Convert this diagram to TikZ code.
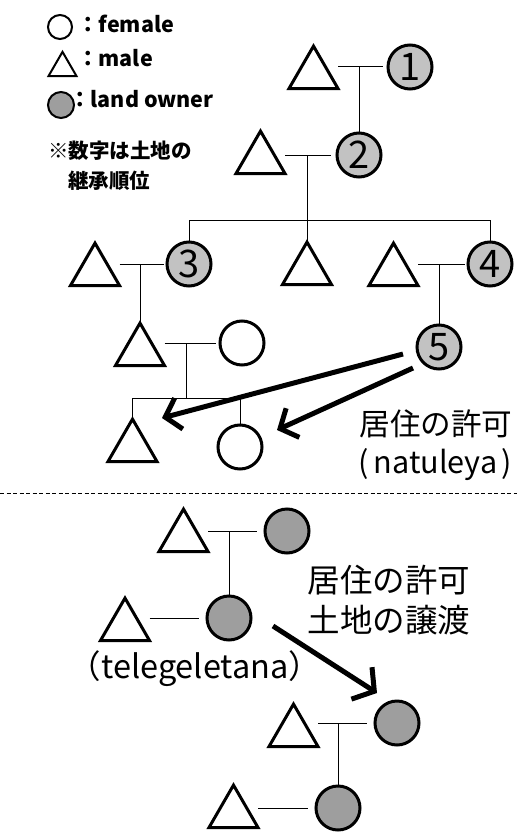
\documentclass[tikz,border=0pt]{standalone}
\usepackage{fontspec}
\setmainfont{Noto Sans CJK JP}
\usetikzlibrary{shapes.geometric,arrows.meta,calc}
\definecolor{ownA}{gray}{0.76}
\definecolor{ownB}{gray}{0.62}
\begin{document}
\begin{tikzpicture}[x=1pt,y=-1pt,
  tri/.style={draw, line width=3pt, regular polygon, regular polygon sides=3,
    minimum size=56.6pt, inner sep=0pt, outer sep=0pt},
  fem/.style={draw, line width=3pt, circle, minimum size=44pt, inner sep=0pt,
    outer sep=0pt, fill=white},
  ownerA/.style={fem, fill=ownA, font=\fontsize{38}{38}\selectfont},
  ownerB/.style={fem, fill=ownB},
  ltri/.style={draw, line width=2pt, regular polygon, regular polygon sides=3,
    minimum size=32.3pt, inner sep=0pt, outer sep=0pt},
  lcirc/.style={draw, line width=2pt, circle, inner sep=0pt, outer sep=0pt},
  legtext/.style={anchor=base west, inner sep=0pt, font=\bfseries\fontsize{21.5}{24}\selectfont},
  notetext/.style={anchor=base west, inner sep=0pt, font=\bfseries\fontsize{20.5}{24}\selectfont},
  labA/.style={anchor=base, inner sep=0pt, font=\fontsize{30.6}{34}\selectfont},
  labB/.style={anchor=base, inner sep=0pt, font=\fontsize{32.5}{36}\selectfont},
  rel/.style={line width=1pt},
  bigarrow/.style={line width=5pt, -{Straight Barb[length=14pt,width=32pt]}},
  bigarrowW/.style={line width=5pt, -{Straight Barb[length=15pt,width=38pt]}},
  sep/.style={line width=0.8pt, dash pattern=on 4pt off 2.5pt}
]
\fill[white] (0,0) rectangle (517,832);
\useasboundingbox (0,0) rectangle (517,832);

% legend
\node[lcirc, minimum size=24pt] (lf) at (60,27) {};
\node[legtext] (lft) at (77,33) {：female};
\node[ltri] (lm) at (62.5,68) {};
\node[legtext] (lmt) at (77,67) {：male};
\node[lcirc, minimum size=26pt, fill=ownB] (lo) at (61,105) {};
\node[legtext] (lot) at (69,108) {：land owner};
\node[notetext] (n1) at (48,158) {※数字は土地の};
\node[notetext] (n2) at (68,188) {継承順位};

% upper tree
\node[tri] (t1) at (313.5,74.4) {};
\node[ownerA] (c1) at (410,67) {1};
\node[tri] (t2) at (260.5,159.4) {};
\node[ownerA] (c2) at (359,155) {2};
\node[tri] (t3l) at (95,271.4) {};
\node[ownerA] (c3) at (189,264) {3};
\node[tri] (t3m) at (307,270.4) {};
\node[tri] (t3r) at (393.5,271.4) {};
\node[ownerA] (c4) at (490,264) {4};
\node[tri] (t4) at (140,351.4) {};
\node[fem] (w4) at (242,343) {};
\node[ownerA] (c5) at (439,347) {5};
\node[tri] (t5) at (132.5,447.4) {};
\node[fem] (w5) at (240,447) {};

\coordinate (bar1) at (307,220);
\coordinate (m4) at (186,343);
\coordinate (bar2) at (186,398);

\draw[rel] (t1.corner 3 |- c1.center) -- ([xshift=-5pt]c1.west);
\draw[rel] (c2.north |- c1.center) -- (c2.north);
\draw[rel] (t2.corner 3 |- c2.center) -- ([xshift=-6pt]c2.west);
\draw[rel] (t3m.corner 1 |- c2.center) -- (t3m.corner 1);
\draw[rel] (c3.north |- bar1) -- (c4.north |- bar1);
\draw[rel] (c3.north |- bar1) -- (c3.north);
\draw[rel] (c4.north |- bar1) -- (c4.north);
\draw[rel] (t3l.corner 3 |- c3.center) -- ([xshift=-3pt]c3.west);
\draw[rel] (t4.corner 1 |- c3.center) -- (t4.corner 1);
\draw[rel] (t3r.corner 3 |- c4.center) -- ([xshift=-3pt]c4.west);
\draw[rel] (c5.north |- c4.center) -- (c5.north);
\draw[rel] (t4.corner 3 |- w4.center) -- ([xshift=-4pt]w4.west);
\draw[rel] (m4) -- (bar2);
\draw[rel] (t5.corner 1 |- bar2) -- (w5.north |- bar2);
\draw[rel] (t5.corner 1 |- bar2) -- (t5.corner 1);
\draw[rel] (w5.north |- bar2) -- (w5.north);

\coordinate (a1s) at (403,354);
\coordinate (a1e) at (162,418);
\coordinate (a2s) at (413,368);
\coordinate (a2e) at (277,430);
\draw[bigarrow] (a1s) -- (a1e);
\draw[bigarrow] (a2s) -- (a2e);

\node[labA] (l1) at (436,435) {居住の許可};
\node[labA] (l2) at (435,473) {(\kern5pt natuleya\kern4pt)};

% separator
\coordinate (sl) at (0,493);
\coordinate (sr) at (517,493);
\draw[sep] (sl) -- (sr);

% lower tree
\node[tri] (ta) at (183.5,537.4) {};
\node[ownerB] (ca) at (287,531) {};
\node[tri] (tb) at (125,626.4) {};
\node[ownerB] (cb) at (229,618) {};
\node[tri] (tc) at (293.5,732.4) {};
\node[ownerB] (cc) at (397,723) {};
\node[tri] (td) at (233.5,813.4) {};
\node[ownerB] (cd) at (338,808) {};

\draw[rel] (ta.corner 3 |- ca.center) -- ([xshift=-8pt]ca.west);
\draw[rel] (cb.north |- ca.center) -- (cb.north);
\draw[rel] (tb.corner 3 |- cb.center) -- ([xshift=-8pt]cb.west);
\draw[rel] (tc.corner 3 |- cc.center) -- ([xshift=-8pt]cc.west);
\draw[rel] (cd.north |- cc.center) -- (cd.north);
\draw[rel] (td.corner 3 |- cd.center) -- ([xshift=-8pt]cd.west);

\node[labB] (l3) at (389,592) {居住の許可};
\node[labB] (l4) at (389,632) {土地の譲渡};
\node[labB] (l5) at (195,678) {（telegeletana）};

\coordinate (a3s) at (273,626);
\coordinate (a3e) at (377,693);
\draw[bigarrowW] (a3s) -- (a3e);
\end{tikzpicture}
\end{document}
